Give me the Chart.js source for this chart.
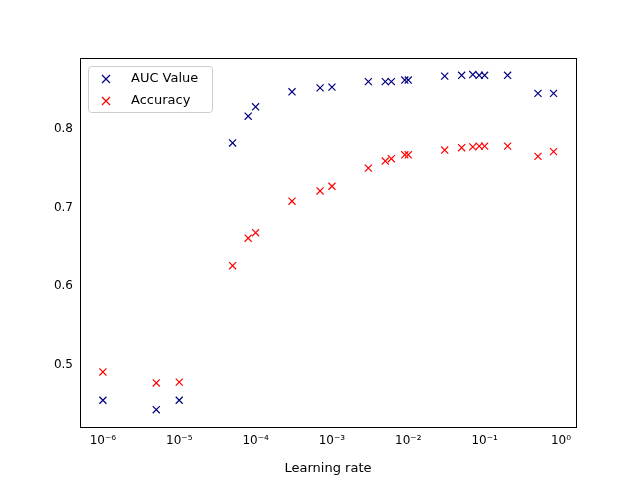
<!DOCTYPE html>
<html>
<head>
<script src="https://cdn.jsdelivr.net/npm/chart.js@4/dist/chart.umd.min.js"></script>
<style>body{margin:0;background:#fff}#wrap{width:640px;height:480px}</style>
</head>
<body>
<div id="wrap"><canvas id="c"></canvas></div>
<script>
const rates = [1e-6, 5e-6, 1e-5, 5e-5, 8e-5, 1e-4, 3e-4, 7e-4, 1e-3, 3e-3, 5e-3, 6e-3, 9e-3, 1e-2, 3e-2, 5e-2, 7e-2, 8.5e-2, 1e-1, 2e-1, 5e-1, 8e-1];
const aucValues = [0.455, 0.443, 0.455, 0.782, 0.816, 0.828, 0.847, 0.852, 0.853, 0.860, 0.860, 0.860, 0.862, 0.862, 0.867, 0.868, 0.869, 0.868, 0.868, 0.868, 0.845, 0.845];
const accValues = [0.491, 0.477, 0.478, 0.626, 0.661, 0.668, 0.708, 0.721, 0.727, 0.750, 0.759, 0.762, 0.767, 0.767, 0.773, 0.776, 0.777, 0.778, 0.778, 0.778, 0.765, 0.771];
const xTicks = [-6, -5, -4, -3, -2, -1, 0];
const yTicks = [0.5, 0.6, 0.7, 0.8];

const sup = {"-":"⁻","0":"⁰","1":"¹","2":"²","3":"³","4":"⁴","5":"⁵","6":"⁶","7":"⁷","8":"⁸","9":"⁹"};
const toPts = ys => rates.map((r, i) => ({x: r, y: ys[i]}));

const insideLegend = {
  id: "insideLegend",
  afterDraw(chart) {
    const ctx = chart.ctx, a = chart.chartArea;
    const x0 = a.left + 8, y0 = a.top + 8;
    ctx.save();
    ctx.fillStyle = "rgba(255,255,255,0.8)";
    ctx.strokeStyle = "#ccc";
    ctx.lineWidth = 1;
    ctx.beginPath();
    ctx.roundRect(x0 + 0.5, y0 + 0.5, 124, 46, 3);
    ctx.fill(); ctx.stroke();
    ctx.font = "13px 'DejaVu Sans'";
    ctx.textBaseline = "middle";
    ctx.lineWidth = 1.2;
    chart.data.datasets.forEach((d, i) => {
      const cy = y0 + 13 + i * 22, cx = x0 + 18;
      ctx.strokeStyle = d.borderColor;
      ctx.beginPath();
      ctx.moveTo(cx - 4, cy - 4); ctx.lineTo(cx + 4, cy + 4);
      ctx.moveTo(cx - 4, cy + 4); ctx.lineTo(cx + 4, cy - 4);
      ctx.stroke();
      ctx.fillStyle = "#000";
      ctx.fillText(d.label, x0 + 43, cy);
    });
    ctx.restore();
  }
};

new Chart(document.getElementById("c"), {
  type: "scatter",
  data: {
    datasets: [
      {label: "AUC Value", data: toPts(aucValues), borderColor: "#000080", backgroundColor: "#000080"},
      {label: "Accuracy", data: toPts(accValues), borderColor: "#ff0000", backgroundColor: "#ff0000"}
    ]
  },
  options: {
    responsive: true,
    maintainAspectRatio: false,
    animation: false,
    layout: {padding: {top: 58, right: 64, left: 0, bottom: 0}},
    elements: {point: {pointStyle: "crossRot", radius: 5, borderWidth: 1.2}},
    plugins: {legend: {display: false}, tooltip: {enabled: false}},
    scales: {
      x: {
        type: "logarithmic",
        min: Math.pow(10, -6.3), max: Math.pow(10, 0.197),
        afterBuildTicks: s => { s.ticks = xTicks.map(e => ({value: Math.pow(10, e)})); },
        afterFit: s => { s.height = 53; },
        grid: {display: false, drawTicks: true, tickLength: 4, tickColor: "#000"},
        border: {color: "#000"},
        ticks: {
          color: "#000", font: {family: "DejaVu Sans", size: 12}, maxRotation: 0, autoSkip: false,
          callback: v => "10" + String(Math.round(Math.log10(v))).split("").map(c => sup[c]).join("")
        },
        title: {display: true, text: "Learning rate", color: "#000", font: {family: "DejaVu Sans", size: 13}, padding: {top: 2}}
      },
      y: {
        min: 0.421, max: 0.890,
        afterBuildTicks: s => { s.ticks = yTicks.map(v => ({value: v})); },
        afterFit: s => { s.width = 80; },
        grid: {display: false, drawTicks: true, tickLength: 4, tickColor: "#000"},
        border: {color: "#000"},
        ticks: {color: "#000", font: {family: "DejaVu Sans", size: 12}, callback: v => v.toFixed(1)}
      }
    }
  },
  plugins: [insideLegend, {
    id: "frame",
    afterDraw(chart) {
      const c = chart.ctx, a = chart.chartArea;
      c.save(); c.strokeStyle = "#000"; c.lineWidth = 1;
      c.strokeRect(a.left + 0.5, a.top + 0.5, a.right - a.left, a.bottom - a.top);
      c.restore();
    }
  }]
});
</script>
</body>
</html>
